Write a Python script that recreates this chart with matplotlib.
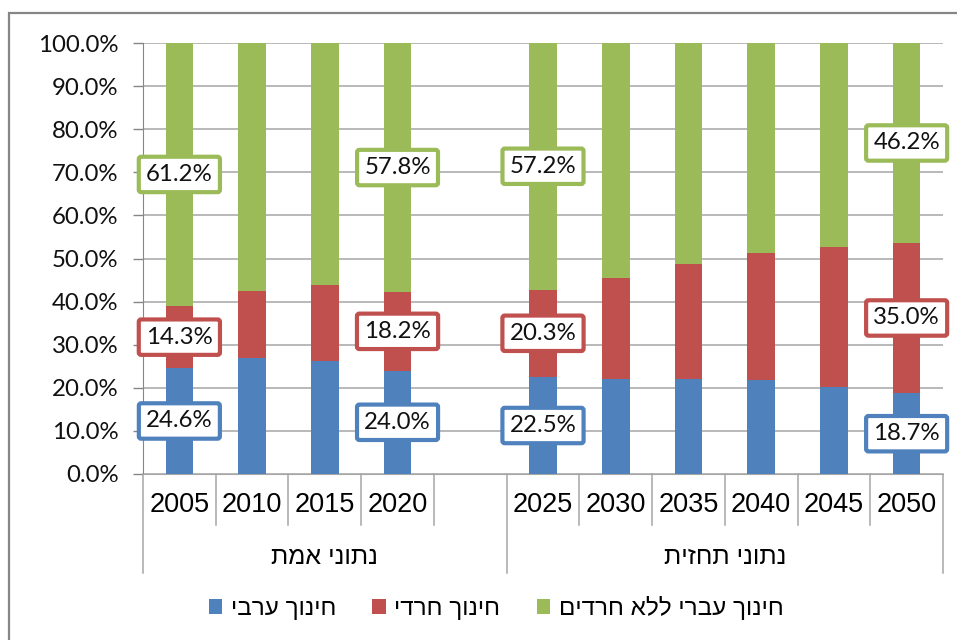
import numpy as np
import matplotlib
matplotlib.use("Agg")
import matplotlib.pyplot as plt
from matplotlib.patches import Rectangle
from matplotlib.transforms import blended_transform_factory

# data (percent of pupils by education stream)
years = ["2005", "2010", "2015", "2020", "2025", "2030", "2035", "2040", "2045", "2050"]
positions = [0, 1, 2, 3, 5, 6, 7, 8, 9, 10]   # blank slot between the two groups
arab = [24.6, 26.8, 26.2, 24.0, 22.5, 22.0, 22.0, 21.8, 20.3, 18.7]
haredi = [14.3, 15.7, 17.6, 18.2, 20.3, 23.5, 26.8, 29.4, 32.4, 35.0]
hebrew = [61.2, 57.5, 56.2, 57.8, 57.2, 54.5, 51.2, 48.8, 47.3, 46.2]
labelled_years = ["2005", "2020", "2025", "2050"]

series_names = ["חינוך ערבי", "חינוך חרדי", "חינוך עברי ללא חרדים"]
group_names = ["נתוני אמת", "נתוני תחזית"]
group_centers = [2.0, 7.5]
group_edges = [-0.5, 4.5, 10.5]

colors = ["#4F81BD", "#C0504D", "#9BBB59"]
grid_col = "#A6A6A6"
axis_col = "#868686"
heb_font = ["Liberation Sans", "DejaVu Sans"]


def rtl(s):
    # matplotlib lays glyphs out left to right, so flip Hebrew for display
    return s[::-1]


W, H = 957, 640
fig = plt.figure(figsize=(W / 100, H / 100), dpi=100)
ax = fig.add_axes([143 / W, 1 - 474 / H, 800 / W, 431 / H])

# outer chart border (runs off the right and bottom edges)
fig.patches.append(Rectangle((9 / W, -0.05), 1.0, 1 - 13 / H + 0.05,
                             transform=fig.transFigure, fill=False,
                             edgecolor=axis_col, lw=1.6))

bw = 0.38
series = [arab, haredi, hebrew]
bottom = np.zeros(len(years))
for vals, col, name in zip(series, colors, series_names):
    ax.bar(positions, vals, bw, bottom=bottom, color=col, label=rtl(name), zorder=3)
    # boxed labels in the middle of the segment, only for some years
    for i, y in enumerate(years):
        if y in labelled_years:
            ax.text(positions[i], bottom[i] + vals[i] / 2, f"{vals[i]:.1f}%",
                    ha="center", va="center", fontsize=17.3, family="Lato",
                    color="#111111", zorder=5,
                    bbox=dict(boxstyle="round,pad=0.3,rounding_size=0.1",
                              fc="white", ec=col, lw=3.0))
    bottom += np.array(vals)

ax.set_xlim(-0.5, 10.5)
ax.set_ylim(0, 100)
yt = np.arange(0, 101, 10)
ax.set_yticks(yt)
ax.set_yticklabels([f"{v:.1f}%" for v in yt], fontsize=17.3, family="Lato", color="#111111")
ax.tick_params(axis="y", length=7.2, width=1, color=axis_col, pad=10.5)
ax.yaxis.grid(True, color=grid_col, lw=1.1, zorder=0)

ax.set_xticks(positions)
ax.set_xticklabels(years, fontsize=19.5, family="Liberation Sans")
ax.tick_params(axis="x", length=0, pad=13)

for side in ["top", "right"]:
    ax.spines[side].set_visible(False)
ax.spines["left"].set_color(axis_col)
ax.spines["bottom"].set_color(grid_col)

# category separators below the axis
tr = blended_transform_factory(ax.transData, ax.transAxes)
for k in range(12):
    xb = k - 0.5
    y_end = -0.23 if xb in group_edges else -0.118
    ax.plot([xb, xb], [0, y_end], color=grid_col, lw=1.1, transform=tr, clip_on=False)

for name, xc in zip(group_names, group_centers):
    ax.text(xc, -0.193, rtl(name), transform=tr, ha="center", va="center",
            fontsize=18, family=heb_font)

leg = fig.legend(loc="center", bbox_to_anchor=(496 / W, 1 - 608 / H), ncol=3,
                 frameon=False, prop={"family": heb_font, "size": 17.5},
                 handlelength=0.55, handleheight=0.55, handletextpad=0.35,
                 columnspacing=1.5)

fig.savefig("out.png", dpi=100)
